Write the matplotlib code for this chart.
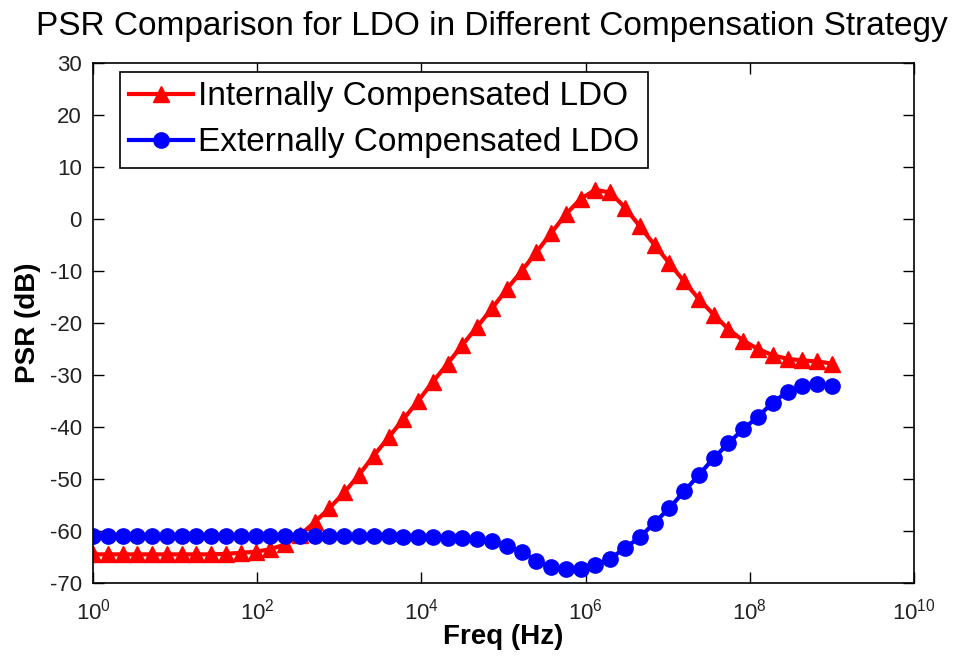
import numpy as np
import matplotlib
matplotlib.use('Agg')
import matplotlib.pyplot as plt
from matplotlib.ticker import FixedLocator, FuncFormatter, NullLocator

# Frequencia (Hz): varredura logaritmica de 1 Hz a 1 GHz, 51 pontos
freq = np.logspace(0, 9, 51)

# PSR (dB)
psr_interno = [
    -64.5, -64.5, -64.5, -64.5, -64.5, -64.5, -64.5, -64.5, -64.5, -64.4,
    -64.2, -64.0, -63.5, -62.6, -60.8, -58.3, -55.6, -52.6, -49.2, -45.5,
    -42.0, -38.5, -35.0, -31.3, -27.8, -24.2, -20.7, -17.2, -13.5, -10.0,
    -6.4, -2.7, 0.9, 3.9, 5.6, 5.1, 2.2, -1.4, -5.0, -8.5,
    -12.0, -15.4, -18.4, -21.2, -23.4, -25.0, -26.2, -26.9, -27.2, -27.4,
    -27.8,
]
psr_externo = [
    -61.0, -61.0, -61.0, -61.0, -61.0, -61.0, -61.0, -61.0, -61.0, -61.0,
    -61.0, -61.0, -61.0, -61.0, -61.0, -61.0, -61.0, -61.0, -61.0, -61.0,
    -61.0, -61.1, -61.1, -61.1, -61.3, -61.4, -61.6, -61.9, -62.9, -64.0,
    -65.7, -67.0, -67.4, -67.4, -66.5, -65.3, -63.3, -61.2, -58.4, -55.6,
    -52.4, -49.2, -46.0, -43.1, -40.4, -38.0, -35.3, -33.2, -32.2, -31.7,
    -32.2,
]

rotulos = ['Internally Compensated LDO', 'Externally Compensated LDO']

plt.rcParams['font.family'] = ['Liberation Sans', 'DejaVu Sans']
plt.rcParams['mathtext.default'] = 'regular'
plt.rcParams['axes.unicode_minus'] = False

fig = plt.figure(figsize=(9.62, 6.69), dpi=100)
ax = fig.add_axes([0.0967, 0.1286, 0.8534, 0.7772])

ax.plot(freq, psr_interno, color='red', linewidth=3, marker='^', markersize=11.5,
        markerfacecolor='red', markeredgecolor='red', label=rotulos[0])
ax.plot(freq, psr_externo, color='blue', linewidth=3, marker='o', markersize=11,
        markerfacecolor='blue', markeredgecolor='blue', label=rotulos[1])

ax.set_xscale('log')
ax.set_xlim(1, 1e10)
ax.set_ylim(-70, 30)
ax.xaxis.set_major_locator(FixedLocator([10.0 ** e for e in range(0, 11, 2)]))
ax.xaxis.set_minor_locator(NullLocator())
ax.xaxis.set_major_formatter(FuncFormatter(lambda v, p: '$10^{%d}$' % round(np.log10(v))))
ax.set_yticks(np.arange(-70, 31, 10))

ax.tick_params(direction='in', top=True, right=True, length=8, width=1,
               labelsize=16, labelcolor='#222222')
ax.tick_params(axis='x', pad=11)
ax.tick_params(axis='y', pad=8)
for s in ax.spines.values():
    s.set_linewidth(1.2)

ax.set_title('PSR Comparison for LDO in Different Compensation Strategy', fontsize=24,
             pad=20, x=0.486)
ax.set_xlabel('Freq (Hz)', fontsize=20, fontweight='bold', labelpad=0)
ax.set_ylabel('PSR (dB)', fontsize=20, fontweight='bold', labelpad=6)

leg = ax.legend(loc='upper left', bbox_to_anchor=(0.033, 0.983), fontsize=24,
                fancybox=False, framealpha=1, edgecolor='black', borderpad=0.28,
                handlelength=1.9, handletextpad=0.15, labelspacing=0.45, borderaxespad=0)
leg.get_frame().set_linewidth(1.2)

fig.savefig('out.png', dpi=100)
